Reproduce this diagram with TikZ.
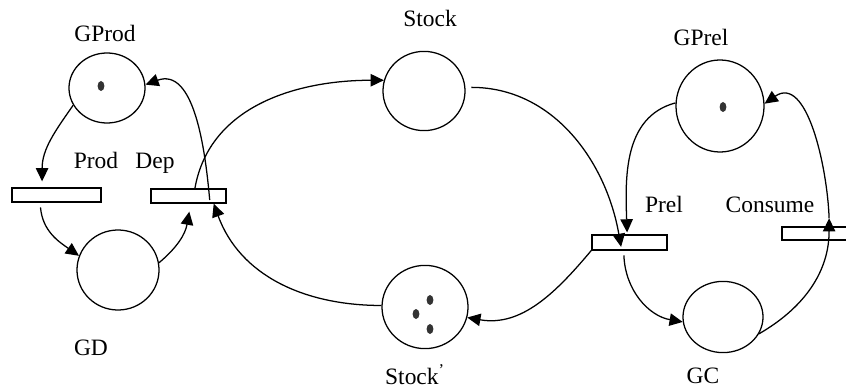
\documentclass[tikz,border=0pt]{standalone}
\usepackage[usenames,dvipsnames]{xcolor}
\usepackage{fontspec}
\setmainfont{Liberation Serif}
\usepackage{tikz}
\usetikzlibrary{shapes,arrows.meta,calc}

\begin{document}
\begin{tikzpicture} [x=0.025cm, y=0.025cm,
				place/.style={
				% The shape:
				ellipse,
				% The size:
      				inner sep=0pt,
				% The border:
      				line width=0.9pt,
     				draw=black
    				},
				transition/.style={
				% The shape:
				rectangle,
				% The size:
      				inner sep=0pt, minimum height=0.35cm,
				% The border:
      				line width=0.9pt, draw=black
    				},
				token/.style={
				% The shape:
				ellipse,
				% The size:
      				inner sep=0pt, minimum width=0.17cm, minimum height=0.25cm,
      				% The filling:
				fill=black!80
    				},
				caption/.style={
				anchor=base,
				% Font
				font=\fontsize{16.7}{20}\selectfont
    				},
				flow/.style={
				line width=0.9pt,
				-{Triangle[length=0.33cm,width=0.31cm]}
    				},
				]
    \useasboundingbox (0,0) rectangle (846,389);
    % places
    \node [place, minimum width=1.9cm, minimum height=1.75cm] (GProd) at (107,301) {};
    \node [place, minimum width=2.05cm, minimum height=2cm] (GD) at (118,119) {};
    \node [place, minimum width=2.05cm, minimum height=1.98cm] (Stock) at (424,298) {};
    \node [place, minimum width=2.15cm, minimum height=2.08cm] (Stockp) at (425,82) {};
    \node [place, minimum width=2.2cm, minimum height=2.3cm] (GPrel) at (720,283) {};
    \node [place, minimum width=2cm, minimum height=1.78cm] (GC) at (723,72) {};
    % tokens
    \node [token] (tGProd) at (101,303) {};
    \node [token] (tGPrel) at (723,282) {};
    \node [token] (tStock1) at (430,89) {};
    \node [token] (tStock2) at (416,75) {};
    \node [token] (tStock3) at (430,60) {};
    % transitions
    \node [transition, minimum width=2.22cm] (Prod) at (56.5,194) {};
    \node [transition, minimum width=1.88cm] (Dep) at (188.5,193) {};
    \node [transition, minimum width=1.88cm, minimum height=0.37cm] (Prel) at (629.5,146.5) {};
    \node [transition, minimum width=1.88cm, minimum height=0.33cm] (Consume) at (819.5,155.5) {};
    % names
    \node [caption] (lGProd) at (105,347) {GProd};
    \node [caption] (lProd) at (96,221) {Prod};
    \node [caption] (lDep) at (155,221) {Dep};
    \node [caption] (lGD) at (91,34) {GD};
    \node [caption] (lStock) at (430,362) {Stock};
    \node [caption] (lStockp) at (415,5) {Stock\textsuperscript{'}};
    \node [caption] (lGPrel) at (701,343) {GPrel};
    \node [caption] (lPrel) at (664,177) {Prel};
    \node [caption] (lConsume) at (770,177) {Consume};
    \node [caption] (lGC) at (703,6) {GC};
    % arcs
    \coordinate (ctop) at ([xshift=0.24cm, yshift=0.2cm]Consume.north);
    \draw [flow] (GProd.207) to[out=235, in=90] ([xshift=-0.36cm, yshift=0.15cm]Prod.north);
    \draw [flow] ([xshift=-0.4cm, yshift=-0.12cm]Prod.south) to[out=-85, in=145] (GD.160);
    \draw [flow] (GD.10) to[out=40, in=-100] ([xshift=0.02cm, yshift=-0.2cm]Dep.south);
    \draw [flow] ([xshift=0.53cm, yshift=-0.1cm]Dep.center) to[out=95, in=20] (GProd.5);
    \draw [flow] ([xshift=0.16cm]Dep.north) to[out=80, in=180] (Stock.165);
    \draw [flow] (Stockp.178) to[out=180, in=-70] ([xshift=0.63cm]Dep.south);
    \draw [flow, shorten <=0.15cm] (Stock.5) to[out=0, in=100] ([xshift=-0.21cm, yshift=-0.11cm]Prel.center);
    \draw [flow] (GPrel.176) to[out=195, in=92] ([xshift=-0.06cm, yshift=0.05cm]Prel.north);
    \draw [flow] (Prel.south west) to[out=-130, in=-10] (Stockp.-14);
    \draw [flow] ([xshift=-0.14cm, yshift=-0.12cm]Prel.south) to[out=-88, in=170] (GC.187);
    \draw [flow] (GC.-25) to[out=30, in=-90] (ctop);
    \draw [flow] (ctop) to[out=92, in=35] (GPrel.3);
\end{tikzpicture}
\end{document}
